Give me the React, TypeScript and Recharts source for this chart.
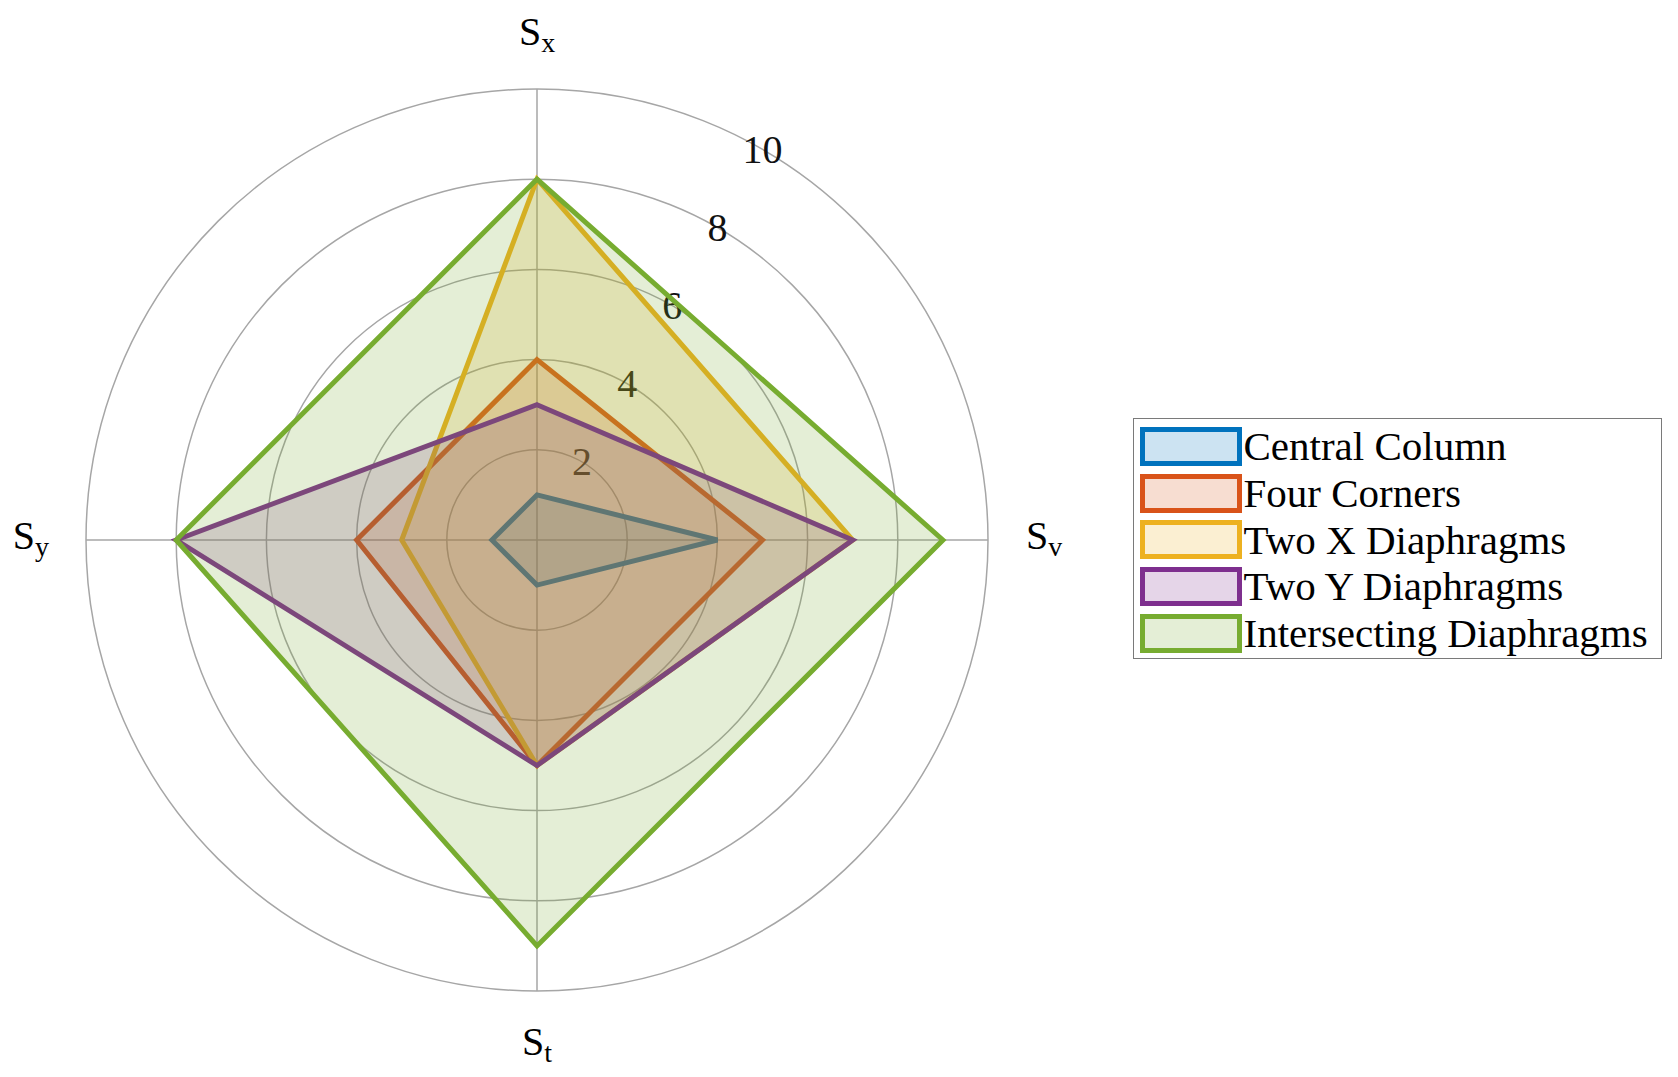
import React from "react";
import {
  Legend,
  PolarAngleAxis,
  PolarGrid,
  PolarRadiusAxis,
  Radar,
  RadarChart,
} from "recharts";

// axes, clockwise from the top
const axes = ["Sx", "Sv", "St", "Sy"];

const centralColumn = [1, 4, 1, 1];
const fourCorners = [4, 5, 5, 4];
const twoX = [8, 7, 5, 3];
const twoY = [3, 7, 5, 8];
const intersecting = [8, 9, 9, 8];

const radiusTicks = [2, 4, 6, 8, 10];

const series = [
  { key: "central", name: "Central Column", values: centralColumn, color: "#0072BD" },
  { key: "corners", name: "Four Corners", values: fourCorners, color: "#D95319" },
  { key: "twoX", name: "Two X Diaphragms", values: twoX, color: "#EDB120" },
  { key: "twoY", name: "Two Y Diaphragms", values: twoY, color: "#7E2F8E" },
  { key: "inter", name: "Intersecting Diaphragms", values: intersecting, color: "#77AC30" },
];

const data = axes.map((a, i) => {
  const row: Record<string, string | number> = { axis: a };
  series.forEach((s) => (row[s.key] = s.values[i]));
  return row;
});

const W = 1678;
const H = 1077;
const CX = 537;
const CY = 540;
const R = 451;
const FONT = '"Liberation Serif", "Times New Roman", serif';

function AngleTick(props: any) {
  const { x, y, payload } = props;
  const dx = x - CX;
  const dy = y - CY;
  const label = String(payload.value);
  let tx = CX;
  let ty = CY;
  let anchor: "start" | "middle" | "end" = "middle";
  if (Math.abs(dy) > Math.abs(dx)) {
    ty = dy < 0 ? CY - R - 44 : CY + R + 64;
  } else {
    anchor = dx > 0 ? "start" : "end";
    tx = dx > 0 ? CX + R + 38 : CX - R - 37;
    ty = CY + 9;
  }
  return (
    <text x={tx} y={ty} textAnchor={anchor} fontFamily={FONT} fontSize={40} fill="#000">
      {label.charAt(0)}
      <tspan fontSize={28} dy={7}>
        {label.slice(1)}
      </tspan>
    </text>
  );
}

function RadiusTick(props: any) {
  const { x, y, payload } = props;
  return (
    <text
      x={x}
      y={y}
      textAnchor="middle"
      dominantBaseline="central"
      fontFamily={FONT}
      fontSize={40}
      fill="#111"
    >
      {payload.value}
    </text>
  );
}

function LegendBox() {
  return (
    <div
      style={{
        position: "absolute",
        left: 1133,
        top: 418,
        width: 529,
        height: 241,
        border: "1.5px solid #7a7a7a",
        background: "#fff",
        fontFamily: FONT,
        fontSize: 41,
        color: "#000",
        boxSizing: "border-box",
        paddingTop: 4,
      }}
    >
      {series.map((s) => (
        <div
          key={s.key}
          style={{ display: "flex", alignItems: "center", height: 46.7, whiteSpace: "nowrap" }}
        >
          <span
            style={{
              display: "inline-block",
              marginLeft: 5.5,
              width: 102,
              height: 39,
              boxSizing: "border-box",
              border: `5.5px solid ${s.color}`,
              background: s.color + "33",
            }}
          />
          <span style={{ marginLeft: 2, lineHeight: "40px" }}>{s.name}</span>
        </div>
      ))}
    </div>
  );
}

export default function App() {
  return (
    <div
      style={{
        position: "absolute",
        left: 0,
        top: 0,
        width: W,
        height: H,
        background: "#fff",
      }}
    >
      <RadarChart
        width={W}
        height={H}
        data={data}
        cx={CX}
        cy={CY}
        outerRadius={R}
        innerRadius={0}
        startAngle={90}
        endAngle={-270}
        margin={{ top: 0, right: 0, bottom: 0, left: 0 }}
      >
        <PolarGrid gridType="circle" stroke="#a6a6a6" strokeWidth={1.5} />
        <PolarAngleAxis dataKey="axis" tick={<AngleTick />} tickLine={false} axisLine={false} />
        <PolarRadiusAxis
          angle={60}
          domain={[0, 10]}
          ticks={radiusTicks}
          tick={<RadiusTick />}
          axisLine={false}
          tickLine={false}
          zIndex={-50}
        />
        {series.map((s) => (
          <Radar
            key={s.key}
            name={s.name}
            dataKey={s.key}
            stroke={s.color}
            strokeWidth={5}
            fill={s.color}
            fillOpacity={0.2}
            isAnimationActive={false}
          />
        ))}
        <Legend content={() => <LegendBox />} wrapperStyle={{ position: "absolute", left: 0, top: 0 }} />
      </RadarChart>
    </div>
  );
}
